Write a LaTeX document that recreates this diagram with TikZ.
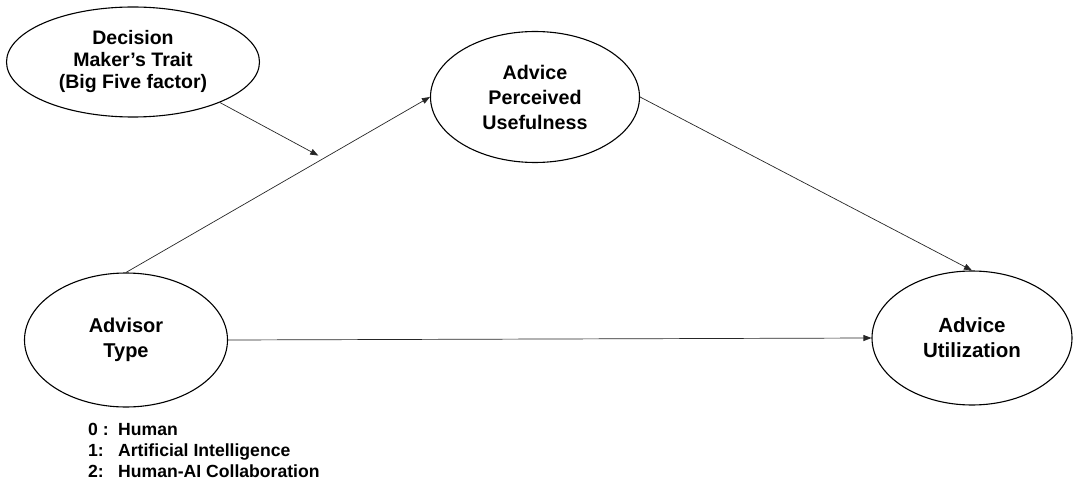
\documentclass[tikz,border=0pt]{standalone}
\usepackage{fontspec}
\setmainfont{Liberation Sans}
\usetikzlibrary{shapes.geometric,arrows.meta,calc}
\begin{document}
\begin{tikzpicture}[x=1pt,y=-1pt,
  lat/.style={ellipse,draw=black,line width=1.1pt,inner sep=0pt,align=center},
  arr/.style={draw=black!85,line width=0.7pt,-{Triangle[length=8pt,width=6pt]}},
  legend/.style={anchor=base west,inner sep=0pt,font=\bfseries\fontsize{17.6}{21}\selectfont}]
\useasboundingbox (0,0) rectangle (1073,484);
\node[lat,minimum width=253pt,minimum height=110pt,font=\bfseries\fontsize{19.5}{22}\selectfont] (dm) at (133,62) {Decision\\Maker’s Trait\\(Big Five factor)};
\node[lat,minimum width=209pt,minimum height=131pt,font=\bfseries\fontsize{19.7}{25}\selectfont] (apu) at (535,97) {Advice\\Perceived\\Usefulness};
\node[lat,minimum width=203pt,minimum height=134pt,font=\bfseries\fontsize{20}{25}\selectfont] (adv) at (126,340) {Advisor\\Type};
\node[lat,minimum width=200pt,minimum height=134pt,font=\bfseries\fontsize{20.5}{25}\selectfont] (au) at (972,338) {Advice\\Utilization};
\node[legend] (l0) at (88,435) {\makebox[30pt][l]{0 :}Human};
\node[legend] (l1) at (88,456) {\makebox[30pt][l]{1:}Artificial Intelligence};
\node[legend] (l2) at (88,477) {\makebox[30pt][l]{2:}Human-AI Collaboration};
\draw[arr] (adv.north) -- (apu.west);
\draw[arr] (apu.east) -- (au.north);
\draw[arr] (adv.east) -- (au.west);
\coordinate (mod) at ($(adv.north)!0.65!(apu.west)$);
\draw[arr,shorten >=6pt] (dm.-25) -- (mod);
\end{tikzpicture}
\end{document}
